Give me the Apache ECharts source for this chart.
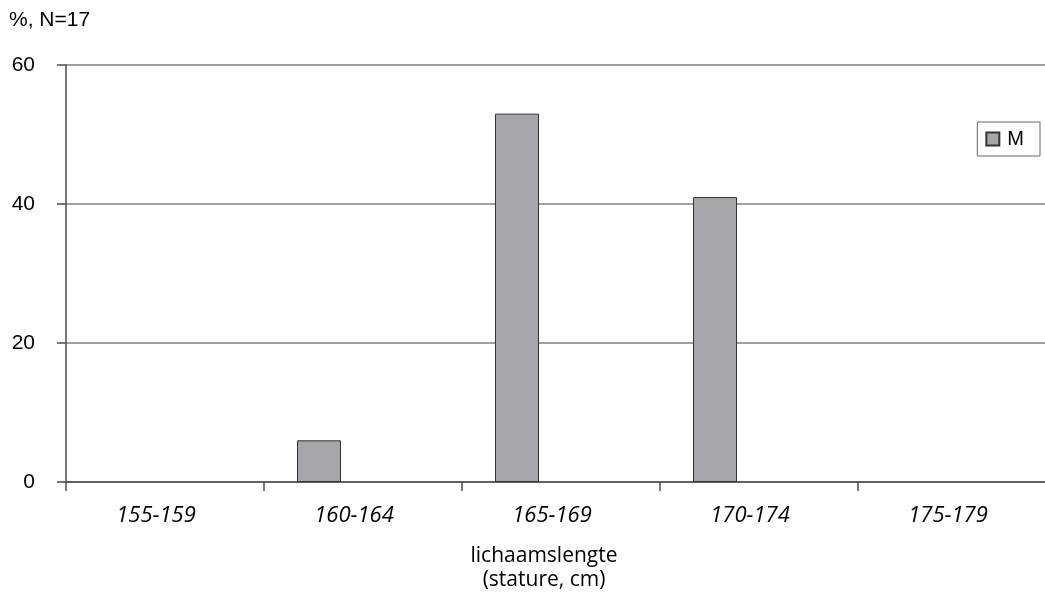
<!DOCTYPE html>
<html>
<head>
<meta charset="utf-8">
<script src="https://cdn.jsdelivr.net/npm/echarts@6/dist/echarts.min.js"></script>
<style>
html,body{margin:0;padding:0;background:#fff;}
#chart{width:1045px;height:594px;}
</style>
</head>
<body>
<div id="chart"></div>
<script>
var categories = ['155-159', '160-164', '165-169', '170-174', '175-179'];
var seriesName = 'M';
var valuesM = [0, 6, 53, 41, 0];
var emptySlots = [null, null, null, null, null];
var yTicks = { min: 0, max: 60, interval: 20 };
var yTitle = '%, N=17';
var xTitle = 'lichaamslengte\n(stature, cm)';

var chart = echarts.init(document.getElementById('chart'), null, { renderer: 'canvas' });
var barStyle = { color: '#a6a6aa', borderColor: '#333333', borderWidth: 1 };
// zero-height bars are not drawn (as in the original)
var shownM = valuesM.map(function (v) { return v === 0 ? '-' : v; });
chart.setOption({
  animation: false,
  backgroundColor: '#ffffff',
  title: {
    text: yTitle, left: 4, top: 5,
    textStyle: { fontFamily: 'Liberation Sans', fontSize: 21, fontWeight: 'normal', color: '#000' }
  },
  legend: {
    data: [seriesName],
    right: 5, top: 122,
    orient: 'vertical',
    borderColor: '#666', borderWidth: 1,
    padding: [7, 16, 7, 8],
    itemWidth: 13, itemHeight: 13, itemGap: 6,
    icon: 'rect',
    textStyle: { fontFamily: 'Liberation Sans', fontSize: 20, color: '#000', padding: [0, 0, 0, 3] }
  },
  grid: { left: 66, top: 65, width: 990, bottom: 112, containLabel: false, outerBoundsMode: 'none' },
  xAxis: {
    type: 'category',
    data: categories,
    name: xTitle,
    nameLocation: 'middle',
    nameGap: 62,
    nameTextStyle: { fontFamily: 'Open Sans', fontSize: 21, color: '#000', lineHeight: 24, padding: [0, 34, 0, 0] },
    axisLine: { lineStyle: { color: '#4d4d4d', width: 1.5 } },
    axisTick: { show: true, length: 9, lineStyle: { color: '#4d4d4d', width: 1.5 } },
    axisLabel: { fontFamily: 'Open Sans', fontStyle: 'italic', fontSize: 22, color: '#000', margin: 23, padding: [0, 18, 0, 0] }
  },
  yAxis: {
    type: 'value',
    min: yTicks.min, max: yTicks.max, interval: yTicks.interval,
    axisLine: { show: true, lineStyle: { color: '#4d4d4d', width: 1.5 } },
    axisTick: { show: true, length: 9, lineStyle: { color: '#4d4d4d', width: 1.5 } },
    splitLine: { lineStyle: { color: '#808080', width: 1.5 } },
    axisLabel: { fontFamily: 'Liberation Sans', fontSize: 21, color: '#000', margin: 31 }
  },
  series: [
    { name: seriesName, type: 'bar', data: shownM, barWidth: 44, barGap: '0%', itemStyle: barStyle },
    { name: 'slot2', type: 'bar', data: emptySlots, barWidth: 44, barGap: '0%' },
    { name: 'slot3', type: 'bar', data: emptySlots, barWidth: 44, barGap: '0%' }
  ]
});
</script>
</body>
</html>
